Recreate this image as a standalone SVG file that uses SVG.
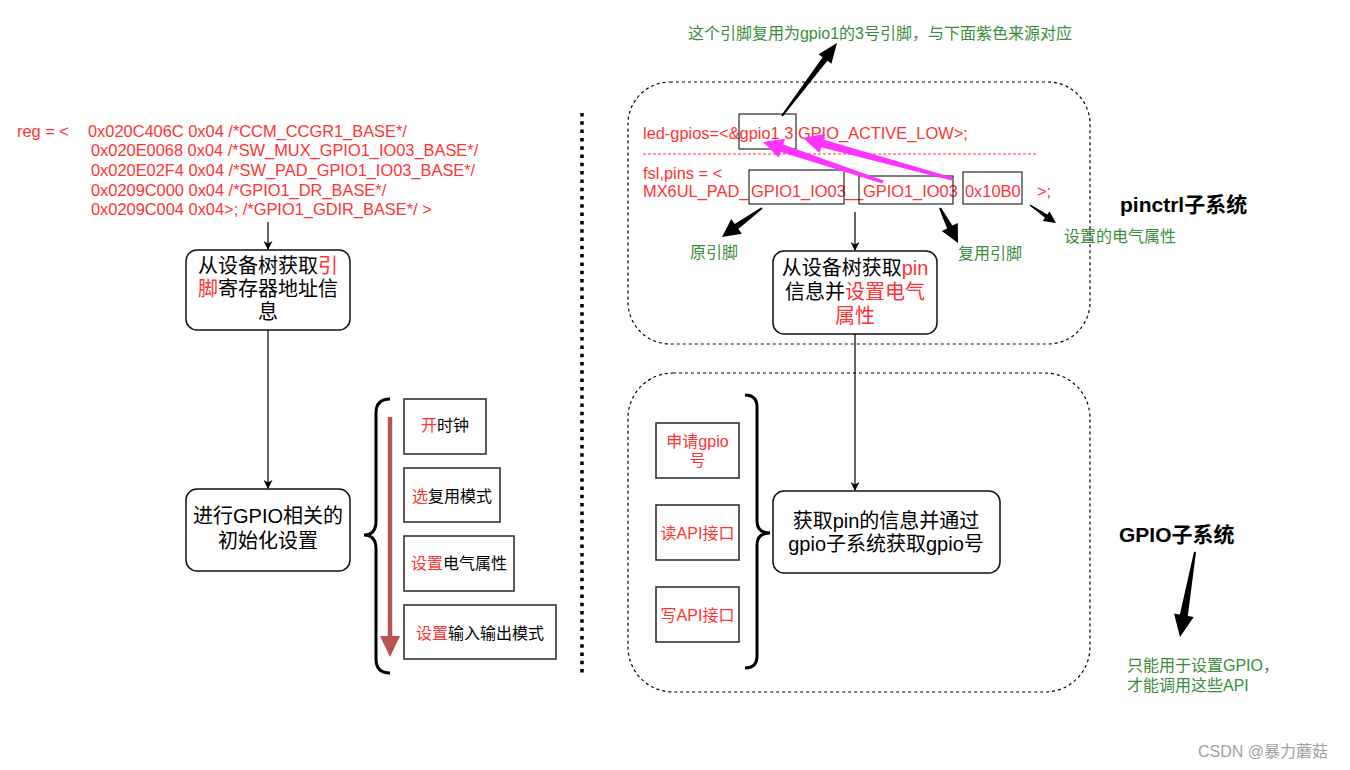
<svg xmlns="http://www.w3.org/2000/svg" width="1350" height="770" viewBox="0 0 1350 770">
<style>
text{font-family:"Liberation Sans","Noto Sans CJK SC",sans-serif;}
.code{font-size:16.4px;fill:#FF3333;}
.bt{font-size:20px;fill:#000;text-anchor:middle;}
.st{font-size:16px;fill:#000;text-anchor:middle;}
.r{fill:#FF3333;}
.g{font-size:16px;fill:#3A8C3A;}
.h{font-size:21px;font-weight:bold;fill:#000;}
.rbox{fill:#fff;stroke:#111;stroke-width:1.5;}
.sbox{fill:#fff;stroke:#333;stroke-width:1.6;}
.cbox{fill:none;stroke:#000;stroke-width:1;}
.ln{stroke:#000;stroke-width:1.2;fill:none;}
.blk{fill:#000;}
.mag{fill:#FF33FF;}
.cont{fill:none;stroke:#000;stroke-width:1.2;stroke-dasharray:3 3;}
</style>
<defs>
<marker id="ah" viewBox="0 0 10 10" refX="9" refY="5" markerWidth="9" markerHeight="9" markerUnits="userSpaceOnUse" orient="auto">
<path d="M0,0 L10,5 L0,10 L3,5 Z" fill="#000"/>
</marker>
</defs>
<rect width="1350" height="770" fill="#fff"/>

<!-- containers -->
<g id="pinctrl-container"><rect class="cont" x="628" y="82" width="462" height="262" rx="42"/></g>
<g id="gpio-container"><rect class="cont" x="628" y="373" width="462" height="319" rx="45"/></g>

<!-- separator -->
<g id="separator"><line x1="582" y1="113" x2="582" y2="673" stroke="#000" stroke-width="3.5" stroke-dasharray="3.5 4.8"/></g>

<!-- left code -->
<g id="reg-code">
<text class="code" x="17" y="137">reg = &lt;</text>
<text class="code" x="88" y="137">0x020C406C 0x04 /*CCM_CCGR1_BASE*/</text>
<text class="code" x="91" y="156">0x020E0068 0x04 /*SW_MUX_GPIO1_IO03_BASE*/</text>
<text class="code" x="91" y="176">0x020E02F4 0x04 /*SW_PAD_GPIO1_IO03_BASE*/</text>
<text class="code" x="91" y="196">0x0209C000 0x04 /*GPIO1_DR_BASE*/</text>
<text class="code" x="91" y="215">0x0209C004 0x04&gt;; /*GPIO1_GDIR_BASE*/ &gt;</text>
</g>

<g id="node-get-reg">
<rect class="rbox" x="186" y="250" width="164" height="80" rx="11"/>
<text class="bt" x="268" y="273">从设备树获取<tspan class="r">引</tspan></text>
<text class="bt" x="268" y="296"><tspan class="r">脚</tspan>寄存器地址信</text>
<text class="bt" x="268" y="319">息</text>
</g>

<g id="node-init">
<rect class="rbox" x="186" y="489" width="164" height="82" rx="11"/>
<text class="bt" x="268" y="523">进行GPIO相关的</text>
<text class="bt" x="268" y="548">初始化设置</text>
</g>

<g id="brace-left"><path d="M390,399 Q376,399 376,413 L376,521 Q376,535 364,535 Q376,535 376,549 L376,659 Q376,673 390,673" fill="none" stroke="#000" stroke-width="3"/></g>

<g id="red-arrow">
<line x1="390" y1="417" x2="390" y2="640" stroke="#B85450" stroke-width="4.5"/>
<polygon points="380,636 400,636 390,657" fill="#B85450"/>
</g>

<g id="node-clock"><rect class="sbox" x="404" y="399" width="82" height="55"/>
<text class="st" x="445" y="431"><tspan class="r">开</tspan>时钟</text></g>
<g id="node-mux"><rect class="sbox" x="404" y="468" width="96" height="54"/>
<text class="st" x="452" y="502"><tspan class="r">选</tspan>复用模式</text></g>
<g id="node-elec"><rect class="sbox" x="404" y="536" width="110" height="55"/>
<text class="st" x="459" y="569"><tspan class="r">设置</tspan>电气属性</text></g>
<g id="node-io"><rect class="sbox" x="404" y="605" width="152" height="54"/>
<text class="st" x="480" y="639"><tspan class="r">设置</tspan>输入输出模式</text></g>

<!-- right top -->
<g id="note-top"><text class="g" x="880" y="39" text-anchor="middle">这个引脚复用为gpio1的3号引脚，与下面紫色来源对应</text></g>

<g id="dts-code">
<text class="code" x="643" y="139">led-gpios=&lt;&amp;gpio1 3 GPIO_ACTIVE_LOW&gt;;</text>
<line x1="643" y1="154" x2="1036" y2="154" stroke="#FF3333" stroke-width="1" stroke-dasharray="3 2"/>
<text class="code" x="643" y="179">fsl,pins = &lt;</text>
<text class="code" y="197"><tspan x="643">MX6UL_PAD_</tspan><tspan x="751">GPIO1_IO03</tspan><tspan x="845">__</tspan><tspan x="863">GPIO1_IO03</tspan><tspan x="965">0x10B0</tspan><tspan x="1037">&gt;;</tspan></text>
<rect class="cbox" x="739" y="114" width="57" height="35"/>
<rect class="cbox" x="749" y="170" width="95" height="34"/>
<rect class="cbox" x="859" y="176" width="94" height="28"/>
<rect class="cbox" x="963" y="172" width="59" height="32"/>
</g>

<g id="label-orig"><text class="g" x="714" y="258" text-anchor="middle">原引脚</text></g>
<g id="label-mux"><text class="g" x="990" y="259" text-anchor="middle">复用引脚</text></g>
<g id="label-elec"><text class="g" x="1064" y="242">设置的电气属性</text></g>
<g id="title-pinctrl"><text class="h" x="1120" y="212">pinctrl子系统</text></g>

<g id="node-pinctrl">
<rect class="rbox" x="773" y="251" width="164" height="83" rx="11"/>
<text class="bt" x="855" y="275">从设备树获取<tspan class="r">pin</tspan></text>
<text class="bt" x="855" y="299">信息并<tspan class="r">设置电气</tspan></text>
<text class="bt" x="855" y="323"><tspan class="r">属性</tspan></text>
</g>

<g id="brace-right"><path d="M745,395 Q757,395 757,407 L757,521 Q757,533 770,533 Q757,533 757,545 L757,656 Q757,668 745,668" fill="none" stroke="#000" stroke-width="3"/></g>

<g id="node-req"><rect class="sbox" x="656" y="423" width="83" height="55"/>
<text class="st" x="697.5" y="447"><tspan class="r">申请gpio</tspan></text>
<text class="st" x="697.5" y="466"><tspan class="r">号</tspan></text></g>
<g id="node-read"><rect class="sbox" x="656" y="505" width="83" height="55"/>
<text class="st r" x="697.5" y="539">读API接口</text></g>
<g id="node-write"><rect class="sbox" x="656" y="587" width="83" height="55"/>
<text class="st r" x="697.5" y="621">写API接口</text></g>

<g id="node-gpio">
<rect class="rbox" x="773" y="491" width="227" height="82" rx="11"/>
<text class="bt" x="886" y="528">获取pin的信息并通过</text>
<text class="bt" x="886" y="551">gpio子系统获取gpio号</text>
</g>

<g id="title-gpio"><text class="h" x="1119" y="542">GPIO子系统</text></g>
<g id="note-gpio">
<text class="g" x="1127" y="671">只能用于设置GPIO，</text>
<text class="g" x="1127" y="691">才能调用这些API</text>
</g>

<g id="watermark"><text x="1198" y="757" font-size="16" fill="#A0A0A0">CSDN @暴力蘑菇</text></g>

<!-- connectors -->
<g id="connectors">
<line class="ln" x1="268" y1="222" x2="268" y2="249" marker-end="url(#ah)"/>
<line class="ln" x1="268" y1="330" x2="268" y2="488" marker-end="url(#ah)"/>
<line class="ln" x1="855" y1="212" x2="855" y2="250" marker-end="url(#ah)"/>
<line class="ln" x1="855" y1="334" x2="855" y2="490" marker-end="url(#ah)"/>
<polygon class="blk" points="782.8,116.6 827.4,60.8 831.4,63.8 837,43 818.6,54.2 822.6,57.2 781.2,115.4"/>
<polygon class="blk" points="762.6,208.8 738.3,228.9 741.9,233.7 722,237 731.3,219.1 734.8,224 761.4,207.2"/>
<polygon class="blk" points="939.1,208.5 947.1,228.4 941.8,231.1 958,243 957.8,222.9 952.4,225.6 940.9,207.5"/>
<polygon class="blk" points="1029.6,205.6 1045,217.8 1042.7,221.1 1056,223 1049.5,211.2 1047.3,214.5 1030.4,204.4"/>
<polygon class="blk" points="1194,551.8 1179.9,614.6 1174,613.6 1180,637 1193.7,617.1 1187.8,616 1196,552.2"/>
<polygon class="mag" points="883.5,180.6 783.2,144.5 785.1,138.8 763,142 778.8,157.8 780.7,152.1 882.5,183.4"/>
<polygon class="mag" points="952.4,177.6 823.3,139.4 824.9,133.7 803,138 819.6,152.9 821.2,147.2 951.6,180.5"/>
</g>
</svg>
